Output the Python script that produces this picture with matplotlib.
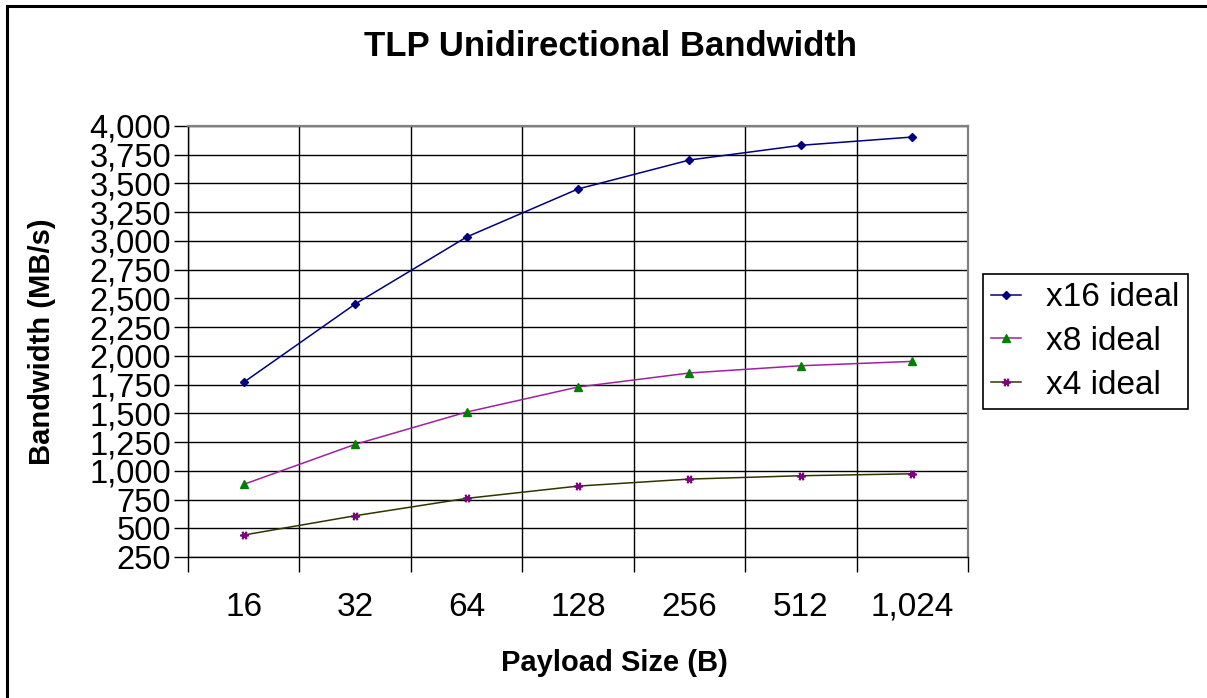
#!/usr/bin/env python3
"""TLP unidirectional bandwidth vs payload size"""

import numpy as np
import matplotlib
matplotlib.use("Agg")
import matplotlib.pyplot as plt
from matplotlib.lines import Line2D
from matplotlib.ticker import FuncFormatter

plt.rcParams['font.family'] = ['Liberation Sans', 'DejaVu Sans']

payload_labels = ['16', '32', '64', '128', '256', '512', '1,024']
x16_ideal = [1770, 2451, 3034, 3452, 3704, 3832, 3904]
x8_ideal = [882, 1230, 1511, 1729, 1851, 1914, 1952]
x4_ideal = [441, 609, 760, 867, 928, 957, 974]

W, H = 1207, 698
fig = plt.figure(figsize=(W / 100, H / 100), dpi=100)
fig.patch.set_facecolor('white')

# outer chart border (only left and top edges are in the crop)
fig.add_artist(Line2D([7 / W, 7 / W, 1.0], [0.0, 1 - 6 / H, 1 - 6 / H],
                      transform=fig.transFigure, color='black', linewidth=2.2,
                      solid_joinstyle='miter'))

ax = fig.add_axes([188 / W, 1 - 557 / H, (968 - 188) / W, (557 - 126) / H])
x = np.arange(len(payload_labels))

ax.plot(x, x16_ideal, color='#000080', linewidth=1.1, marker='D', markersize=4.5,
        markerfacecolor='#000080', markeredgecolor='#000080', label='x16 ideal', zorder=3)
ax.plot(x, x8_ideal, color='#A020A0', linewidth=1.1, marker='^', markersize=6,
        markerfacecolor='#008000', markeredgecolor='#008000', label='x8 ideal', zorder=3)
ax.plot(x, x4_ideal, color='#333300', linewidth=1.1, marker=(6, 2, 90), markersize=6,
        markerfacecolor='#800080', markeredgecolor='#800080', markeredgewidth=1.3,
        label='x4 ideal', zorder=3)

ax.set_xlim(-0.5, len(payload_labels) - 0.5)
ax.set_ylim(250, 4000)
ax.set_yticks(np.arange(250, 4001, 250))
ax.yaxis.set_major_formatter(FuncFormatter(lambda v, p: f'{int(v):,}'))
ax.set_xticks(x)
ax.set_xticklabels(payload_labels)
ax.set_xticks(np.arange(-0.5, len(payload_labels)), minor=True)

ax.tick_params(axis='y', which='major', labelsize=23.5, length=10, width=1, direction='out',
               color='black', pad=2)
ax.tick_params(axis='x', which='major', labelsize=24, length=0, pad=25)
ax.tick_params(axis='x', which='minor', length=11, width=1, direction='out', color='black')

ax.grid(True, axis='y', which='major', color='black', linewidth=1)
ax.grid(True, axis='x', which='minor', color='black', linewidth=1)
ax.grid(False, axis='x', which='major')

for side in ['left', 'bottom', 'top', 'right']:
    ax.spines[side].set_color('black')
    ax.spines[side].set_linewidth(1)
ax.spines['right'].set_color('#808080')
ax.spines['right'].set_linewidth(1.6)
ax.spines['top'].set_color('#808080')
ax.spines['top'].set_linewidth(1.6)

fig.text(611 / W, 1 - 46 / H, 'TLP Unidirectional Bandwidth', ha='center', va='center',
         fontsize=25, fontweight='bold')
fig.text(42 / W, 1 - 342 / H, 'Bandwidth (MB/s)', ha='center', va='center', rotation=90,
         fontsize=21, fontweight='bold')
fig.text(614 / W, 1 - 663 / H, 'Payload Size (B)', ha='center', va='center',
         fontsize=21, fontweight='bold')

leg = ax.legend(loc='upper left', bbox_to_anchor=(983 / W, 1 - 274 / H),
                bbox_transform=fig.transFigure, fontsize=24, frameon=True, fancybox=False,
                framealpha=1, edgecolor='black', borderpad=0.25, labelspacing=0.38,
                handlelength=0.9, handletextpad=0.75, borderaxespad=0)
leg.get_frame().set_linewidth(1.2)

fig.savefig('out.png', dpi=100)
